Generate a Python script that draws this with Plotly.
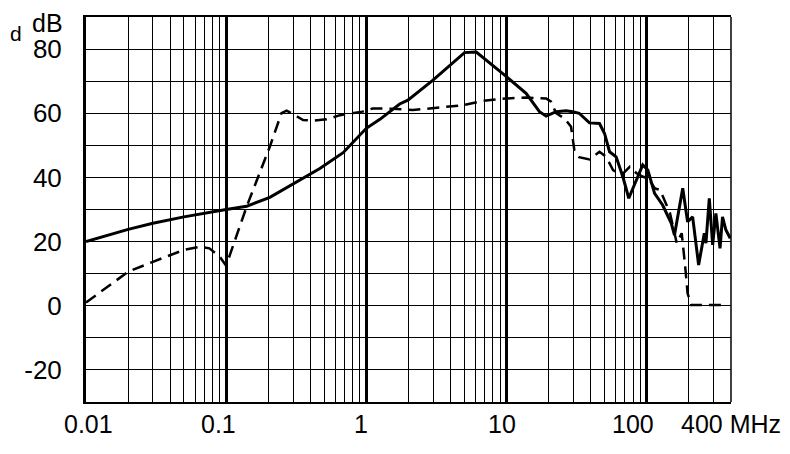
import numpy as np
import plotly.graph_objects as go

# solid curve (MHz, dB)
solid_f = [0.01, 0.02, 0.03, 0.05, 0.1, 0.14, 0.205, 0.284, 0.466, 0.683, 1.0, 1.25, 1.73,
           1.98, 2.99, 5.02, 6.09, 10.0, 13.8, 17.2, 19.2, 22.6, 26.6, 29.7, 33.0, 39.1, 46.1,
           50.1, 54.4, 60.6, 67.7, 74.6, 84.2, 93.8, 102, 114, 130, 150, 158, 181, 196, 213,
           235, 258, 265, 280, 296, 312, 334, 348, 368, 395]
solid_db = [20.0, 23.8, 25.7, 27.7, 30.0, 31.0, 33.8, 37.3, 42.8, 47.7, 55.3, 58.1, 62.9,
            64.1, 70.3, 78.9, 79.1, 71.4, 66.2, 60.5, 59.1, 60.5, 60.8, 60.5, 60.0, 57.0, 56.8,
            53.7, 48.0, 46.4, 40.2, 33.5, 39.2, 43.9, 42.3, 35.0, 31.4, 25.7, 22.0, 36.6, 26.2,
            27.7, 12.7, 22.6, 19.5, 33.5, 19.0, 28.8, 17.9, 27.7, 23.6, 21.0]

# dashed curve (MHz, dB)
dash_f = [0.01, 0.02, 0.03, 0.05, 0.065, 0.076, 0.09, 0.1, 0.14, 0.205, 0.248, 0.27, 0.292,
          0.354, 0.415, 0.519, 0.65, 0.8, 0.94, 1.11, 1.39, 2.15, 3.34, 4.93, 6.8, 9.96, 13.8,
          19.2, 20.8, 22.6, 25.9, 28.9, 30.5, 33.0, 39.1, 46.1, 51.5, 57.6, 66.1, 75.8, 84.7,
          94.6, 102.8, 114.6, 124.7, 147, 164, 178, 188, 196, 208, 345]
dash_db = [1.0, 10.6, 13.7, 17.4, 18.4, 17.9, 15.3, 12.5, 30.9, 49.6, 60.0, 60.8, 60.0,
           57.9, 57.7, 58.1, 59.4, 60.0, 60.5, 61.5, 61.5, 61.0, 61.8, 62.5, 63.9, 64.6, 64.9,
           64.6, 63.6, 60.0, 58.4, 55.8, 48.5, 46.3, 45.6, 48.0, 46.4, 42.3, 40.7, 43.3, 41.3,
           40.2, 39.7, 36.6, 36.1, 28.8, 19.5, 22.6, 12.7, 3.9, 0.2, 0.2]

decades = [0.01, 0.1, 1, 10, 100]
minor_f = [m * d for d in [0.01, 0.1, 1, 10] for m in range(2, 10)] + [200, 300, 400]
x_labels = ["0.01", "0.1", "1", "10", "100", "400 MHz"]
x_label_pos = [0.01, 0.1, 1, 10, 100, 400]
x_label_shift = [2, -8, -5, -4, -14, 0]
y_ticks = [-20, 0, 20, 40, 60, 80]
y_labels = ["-20", "0", "20", "40", "60", "80"]

font = "Liberation Sans, Arial, sans-serif"

fig = go.Figure()
fig.add_trace(go.Scatter(x=dash_f, y=dash_db, mode="lines",
                         line=dict(color="black", width=2.5, dash="12px,7px")))
fig.add_trace(go.Scatter(x=solid_f, y=solid_db, mode="lines",
                         line=dict(color="black", width=3)))

for lab, pos, sh in zip(x_labels, x_label_pos, x_label_shift):
    fig.add_annotation(x=np.log10(pos), y=0, xref="x", yref="paper", text=lab,
                       showarrow=False, xanchor="center", yanchor="middle",
                       xshift=sh, yshift=-22, font=dict(size=25, color="black", family=font))

fig.add_annotation(x=-0.059, y=0.984, xref="paper", yref="paper", text="dB", showarrow=False,
                   xanchor="center", yanchor="middle", font=dict(size=25, color="black", family=font))
fig.add_annotation(x=-0.1209, y=0.958, xref="paper", yref="paper", text="d", showarrow=False,
                   xanchor="left", yanchor="middle", font=dict(size=21, color="black", family=font))

fig.add_shape(type="line", xref="paper", yref="paper", x0=1, x1=1, y0=0, y1=1,
              line=dict(color="black", width=1.5))

fig.update_xaxes(type="log", range=[-2, np.log10(400)], tickvals=decades, showticklabels=False,
                 ticks="", showgrid=True, gridcolor="black", gridwidth=2.5, automargin=False,
                 minor=dict(tickvals=minor_f, showgrid=True, gridcolor="black", gridwidth=1.2, ticks=""),
                 showline=True, mirror=True, linecolor="black", linewidth=1.5, zeroline=False)
fig.update_yaxes(range=[-30, 90], tickvals=y_ticks, ticktext=y_labels, showgrid=True,
                 gridcolor="black", gridwidth=1.2, automargin=False,
                 minor=dict(tickvals=[-10, 10, 30, 50, 70], showgrid=True, gridcolor="black", gridwidth=1.2),
                 ticks="outside", ticklen=16, tickcolor="rgba(0,0,0,0)",
                 tickfont=dict(size=26, color="black", family=font),
                 showline=True, linecolor="black", linewidth=3, zeroline=False)

# page body has an 8px margin, so the figure is a little smaller and shifted
fig.update_layout(width=782, height=446, margin=dict(l=78, r=59, t=9, b=52),
                  plot_bgcolor="white", paper_bgcolor="white", showlegend=False)

fig.write_html("out.html")
